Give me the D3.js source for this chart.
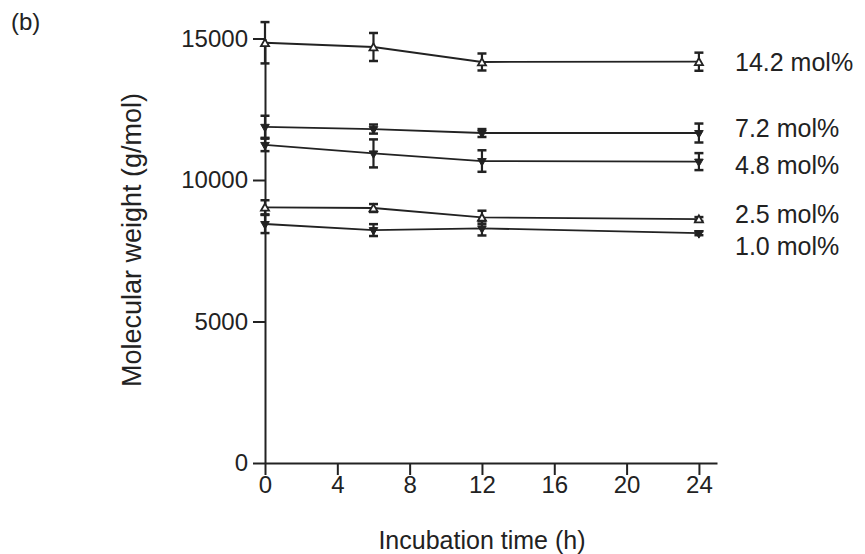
<!DOCTYPE html>
<html>
<head>
<meta charset="utf-8">
<script src="https://cdn.jsdelivr.net/npm/d3@7"></script>
<style>
  body { margin: 0; background: #fff; }
  svg text { font-family: "Liberation Sans", Arial, sans-serif; fill: #222; }
</style>
</head>
<body>
<div id="chart"></div>
<script>
// incubation times (h)
var times = [0, 6, 12, 24];
var seriesNames = ["14.2 mol%", "7.2 mol%", "4.8 mol%", "2.5 mol%", "1.0 mol%"];
var markerKind = ["open-up", "filled-down", "filled-down", "open-up", "filled-down"];
// molecular weights (g/mol), one row per series
var mw142 = [14850, 14700, 14170, 14180];
var mw72 = [11880, 11800, 11660, 11660];
var mw48 = [11240, 10940, 10670, 10650];
var mw25 = [9035, 9010, 8680, 8620];
var mw10 = [8445, 8230, 8290, 8120];
// standard deviations
var sd142 = [730, 495, 300, 320];
var sd72 = [390, 160, 140, 335];
var sd48 = [220, 495, 380, 300];
var sd25 = [250, 140, 235, 70];
var sd10 = [320, 210, 250, 70];
// where the right-hand labels sit (g/mol)
var labelAt = [14170, 11840, 10530, 8800, 7670];
var xTicks = [0, 4, 8, 12, 16, 20, 24];
var yTicks = [0, 5000, 10000, 15000];

var allMeans = [mw142, mw72, mw48, mw25, mw10];
var allSd = [sd142, sd72, sd48, sd25, sd10];

const width = 865;
const height = 554;
const margin = { top: 38.5, bottom: 91, left: 265, right: 148 };

const svg = d3.select('#chart')
  .append('svg')
  .attr('width', width)
  .attr('height', height);

const x = d3.scaleLinear()
  .domain([0, 25])
  .range([margin.left, width - margin.right]);

const y = d3.scaleLinear()
  .domain([0, 15000])
  .range([height - margin.bottom, margin.top]);

// axes
function yAxis(g) {
  g.attr("transform", `translate(${margin.left},0)`)
    .call(d3.axisLeft(y).tickValues(yTicks).tickFormat(d3.format("d")).tickSize(12).tickPadding(5).tickSizeOuter(0))
    .attr("font-size", 24);
}
function xAxis(g) {
  g.attr("transform", `translate(0,${height - margin.bottom})`)
    .call(d3.axisBottom(x).tickValues(xTicks).tickSize(12).tickPadding(1).tickSizeOuter(0))
    .attr("font-size", 24);
}
svg.append("g").attr("class", "x-axis").call(xAxis);
svg.append("g").attr("class", "y-axis").call(yAxis);
svg.selectAll(".domain, .tick line").attr("stroke", "#222").attr("stroke-width", 2);
svg.selectAll(".tick text").attr("fill", "#222").attr("font-family", "Liberation Sans, Arial, sans-serif");

// series
var line = d3.line().x((d, i) => x(times[i])).y(d => y(d));
var tri = d3.symbol().type(d3.symbolTriangle);

allMeans.forEach(function (vals, s) {
  var g = svg.append("g").attr("class", "series");
  g.append("path")
    .datum(vals)
    .attr("fill", "none")
    .attr("stroke", "#222")
    .attr("stroke-width", 1.8)
    .attr("d", line);

  // error bars
  var eb = g.selectAll(".err").data(vals).join("g").attr("class", "err");
  eb.append("line")
    .attr("x1", (d, i) => x(times[i])).attr("x2", (d, i) => x(times[i]))
    .attr("y1", (d, i) => y(d - allSd[s][i])).attr("y2", (d, i) => y(d + allSd[s][i]))
    .attr("stroke", "#222").attr("stroke-width", 2.2);
  [-1, 1].forEach(function (sign) {
    eb.append("line")
      .attr("x1", (d, i) => x(times[i]) - 4.5).attr("x2", (d, i) => x(times[i]) + 4.5)
      .attr("y1", (d, i) => y(d + sign * allSd[s][i])).attr("y2", (d, i) => y(d + sign * allSd[s][i]))
      .attr("stroke", "#222").attr("stroke-width", 2.5);
  });

  // markers
  var open = markerKind[s] === "open-up";
  g.selectAll(".mk").data(vals).join("path")
    .attr("class", "mk")
    .attr("d", tri.size(open ? 28 : 32))
    .attr("transform", (d, i) => `translate(${x(times[i])},${y(d) + (open ? 1 : 0)}) rotate(${open ? 0 : 180})`)
    .attr("fill", open ? "#fff" : "#222")
    .attr("stroke", "#222")
    .attr("stroke-width", open ? 1.8 : 1);

  // series label
  svg.append("text")
    .attr("x", 735)
    .attr("y", y(labelAt[s]))
    .attr("dy", "0.35em")
    .attr("font-size", 25)
    .text(seriesNames[s]);
});

// titles
svg.append("text")
  .attr("x", 11).attr("y", 30)
  .attr("font-size", 24)
  .text("(b)");

svg.append("text")
  .attr("transform", `translate(141,93) rotate(-90)`)
  .attr("text-anchor", "end")
  .attr("font-size", 27)
  .text("Molecular weight (g/mol)");

svg.append("text")
  .attr("x", (x(0) + x(24)) / 2)
  .attr("y", 549)
  .attr("text-anchor", "middle")
  .attr("font-size", 25)
  .text("Incubation time (h)");
</script>
</body>
</html>
